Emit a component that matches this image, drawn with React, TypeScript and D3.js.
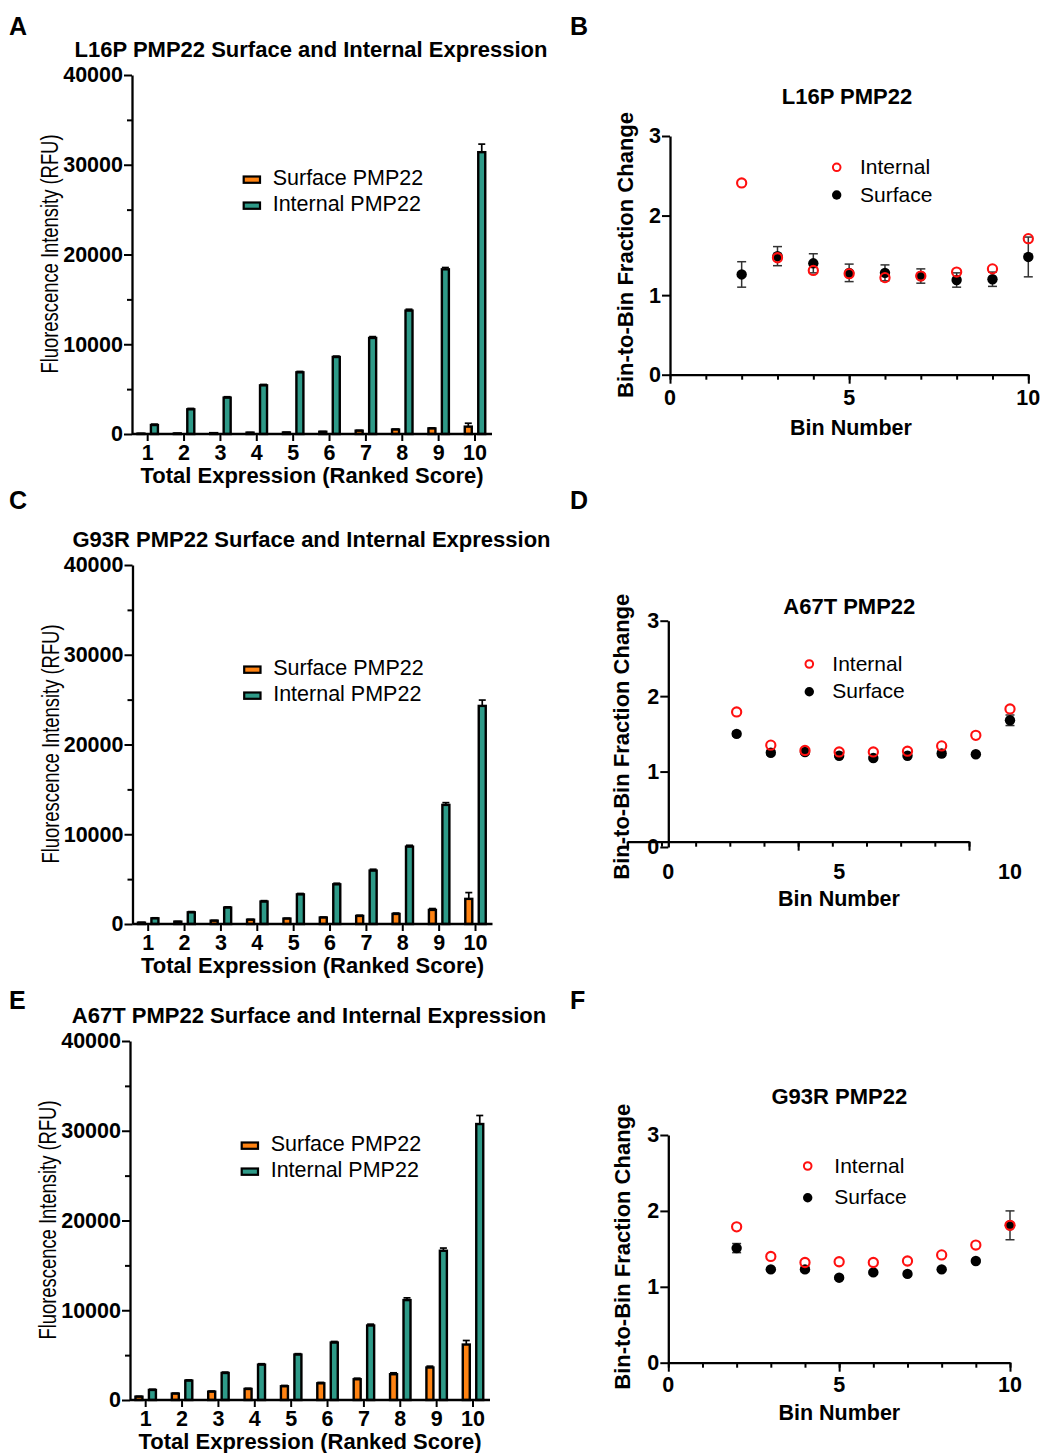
import React, { useEffect, useRef } from "react";
import * as d3 from "d3";

// ranked score groups (bar panels) and bins (fraction-change panels)
const ranks = ["1", "2", "3", "4", "5", "6", "7", "8", "9", "10"];
const bins = [2, 3, 4, 5, 6, 7, 8, 9, 10];

const barTicksMajor = [0, 10000, 20000, 30000, 40000];
const barTicksMinor = [5000, 15000, 25000, 35000];
const binTicksY = [0, 1, 2, 3];
const binTicksMajor = [0, 5, 10];
const binTicksMinor = [0, 1, 2, 3, 4, 5, 6, 7, 8, 9, 10];

// L16P bar values (RFU)
const l16pSurface = [40, 60, 100, 150, 170, 250, 370, 500, 620, 820];
const l16pSurfaceErr = [10, 10, 20, 20, 20, 30, 40, 50, 60, 380];
const l16pInternal = [1000, 2750, 4050, 5420, 6870, 8580, 10700, 13750, 18350, 31400];
const l16pInternalErr = [100, 100, 100, 100, 100, 100, 150, 150, 200, 900];

// G93R bar values
const g93rSurface = [150, 260, 370, 480, 600, 720, 900, 1120, 1570, 2800];
const g93rSurfaceErr = [30, 30, 40, 40, 50, 60, 80, 100, 150, 700];
const g93rInternal = [630, 1300, 1830, 2500, 3300, 4420, 5950, 8620, 13270, 24300];
const g93rInternalErr = [60, 80, 80, 100, 100, 120, 150, 150, 250, 650];

// A67T bar values
const a67tSurface = [370, 710, 930, 1230, 1530, 1860, 2310, 2870, 3620, 6180];
const a67tSurfaceErr = [50, 60, 70, 80, 90, 100, 120, 160, 150, 450];
const a67tInternal = [1120, 2160, 3010, 3940, 5060, 6400, 8300, 11130, 16630, 30750];
const a67tInternalErr = [80, 80, 100, 100, 100, 120, 150, 250, 300, 950];

// bin-to-bin fraction change
const l16pBinInternal = [2.41, 1.47, 1.31, 1.27, 1.22, 1.24, 1.29, 1.33, 1.71];
const l16pBinSurface = [1.26, 1.49, 1.4, 1.28, 1.28, 1.24, 1.19, 1.2, 1.48];
const l16pBinSurfaceErr = [0.16, 0.12, 0.12, 0.11, 0.1, 0.09, 0.09, 0.09, 0.25];

const a67tBinInternal = [1.79, 1.35, 1.28, 1.26, 1.26, 1.27, 1.34, 1.48, 1.83];
const a67tBinSurface = [1.5, 1.25, 1.26, 1.21, 1.18, 1.21, 1.24, 1.23, 1.68];
const a67tBinSurfaceErr = [0.03, 0.03, 0.03, 0.02, 0.02, 0.02, 0.03, 0.02, 0.07];

const g93rBinInternal = [1.79, 1.4, 1.32, 1.33, 1.32, 1.34, 1.42, 1.55, 1.81];
const g93rBinSurface = [1.51, 1.23, 1.23, 1.12, 1.19, 1.17, 1.23, 1.34, 1.81];
const g93rBinSurfaceErr = [0.06, 0.02, 0.03, 0.02, 0.02, 0.02, 0.02, 0.02, 0.19];

const FONT = "'Liberation Sans', Arial, Helvetica, sans-serif";
const ORANGE = "#FF8312";
const TEAL = "#2E9A88";
const RED = "#FF1010";

const barPanels = [
  {
    letter: "A", letterX: 9, letterY: 35, x0: 132, y0: 434,
    title: "L16P PMP22 Surface and Internal Expression",
    surface: l16pSurface, surfaceErr: l16pSurfaceErr,
    internal: l16pInternal, internalErr: l16pInternalErr,
  },
  {
    letter: "C", letterX: 9, letterY: 509, x0: 132.5, y0: 924,
    title: "G93R PMP22 Surface and Internal Expression",
    surface: g93rSurface, surfaceErr: g93rSurfaceErr,
    internal: g93rInternal, internalErr: g93rInternalErr,
  },
  {
    letter: "E", letterX: 9, letterY: 1009, x0: 130, y0: 1400,
    title: "A67T PMP22 Surface and Internal Expression",
    surface: a67tSurface, surfaceErr: a67tSurfaceErr,
    internal: a67tInternal, internalErr: a67tInternalErr,
  },
];

const scatterPanels = [
  {
    letter: "B", letterX: 570, letterY: 35,
    x0: 670, y0: 374.7, w: 358.3, h: 238.7, shift: [0, 0],
    title: "L16P PMP22", titleX: 847, titleY: 96,
    legX: 836.7, legY1: 167.3, legY2: 195, legTextX: 860,
    yLabX: 625, yLabY: 255, xLabX: 851, xLabY: 428, xTickY: 398,
    internal: l16pBinInternal, surface: l16pBinSurface, surfaceErr: l16pBinSurfaceErr,
  },
  {
    letter: "D", letterX: 570, letterY: 509,
    x0: 668.3, y0: 847, w: 341.7, h: 226.3, shift: [-41, -5.3],
    title: "A67T PMP22", titleX: 849.3, titleY: 606,
    legX: 809.3, legY1: 664, legY2: 691.7, legTextX: 832.3,
    yLabX: 621.7, yLabY: 736.7, xLabX: 839, xLabY: 899, xTickY: 871.7,
    internal: a67tBinInternal, surface: a67tBinSurface, surfaceErr: a67tBinSurfaceErr,
  },
  {
    letter: "F", letterX: 570, letterY: 1009,
    x0: 668.3, y0: 1362.7, w: 341.7, h: 227.7, shift: [0, 0],
    title: "G93R PMP22", titleX: 839.3, titleY: 1096.7,
    legX: 807.7, legY1: 1166, legY2: 1197.7, legTextX: 834.3,
    yLabX: 622, yLabY: 1246.7, xLabX: 839.3, xLabY: 1413, xTickY: 1385,
    internal: g93rBinInternal, surface: g93rBinSurface, surfaceErr: g93rBinSurfaceErr,
  },
];

function styleAxis(sel, size) {
  sel.attr("font-family", FONT).attr("font-size", size).attr("font-weight", "bold");
  sel.selectAll("text").attr("fill", "#000");
  sel.selectAll("line").attr("stroke", "#000").attr("stroke-width", 2);
  sel.select(".domain").attr("stroke", "#000").attr("stroke-width", 2.3);
}

function label(g, text, x, y, size, weight, rotate = false) {
  return g
    .append("text")
    .attr("transform", `translate(${x},${y})${rotate ? " rotate(-90)" : ""}`)
    .attr("text-anchor", "middle")
    .attr("dominant-baseline", "central")
    .attr("font-family", FONT)
    .attr("font-size", size)
    .attr("font-weight", weight)
    .attr("fill", "#000")
    .text(text);
}

function drawBarPanel(svg, p) {
  const g = svg.append("g").attr("class", "bar-panel");
  const x = d3.scaleBand().domain(ranks).range([p.x0 - 2.5, p.x0 + 361.2]);
  const xSub = d3
    .scaleBand()
    .domain(["surface", "internal"])
    .range([0, x.bandwidth()])
    .paddingInner(0.48)
    .paddingOuter(0.59);
  const y = d3.scaleLinear().domain([0, 40000]).range([p.y0, p.y0 - 359]);

  const series = [
    { key: "surface", values: p.surface, err: p.surfaceErr, color: ORANGE },
    { key: "internal", values: p.internal, err: p.internalErr, color: TEAL },
  ];

  for (const s of series) {
    const rows = ranks.map((r, i) => ({ r, v: s.values[i], e: s.err[i] }));
    const cx = (d) => x(d.r) + xSub(s.key) + xSub.bandwidth() / 2;
    g.append("g")
      .selectAll("rect")
      .data(rows)
      .join("rect")
      .attr("x", (d) => x(d.r) + xSub(s.key))
      .attr("width", xSub.bandwidth())
      .attr("y", (d) => y(d.v))
      .attr("height", (d) => y(0) - y(d.v))
      .attr("fill", s.color)
      .attr("stroke", "#000")
      .attr("stroke-width", 2.4);
    const eg = g.append("g").attr("stroke", "#000").attr("stroke-width", 1.7);
    eg.selectAll("line.v")
      .data(rows)
      .join("line")
      .attr("class", "v")
      .attr("x1", cx)
      .attr("x2", cx)
      .attr("y1", (d) => y(d.v))
      .attr("y2", (d) => y(d.v + d.e));
    eg.selectAll("line.c")
      .data(rows)
      .join("line")
      .attr("class", "c")
      .attr("x1", (d) => cx(d) - 3.5)
      .attr("x2", (d) => cx(d) + 3.5)
      .attr("y1", (d) => y(d.v + d.e))
      .attr("y2", (d) => y(d.v + d.e));
  }

  // axes
  g.append("g")
    .attr("transform", `translate(${p.x0},0)`)
    .call(
      d3.axisLeft(y).tickValues(barTicksMajor).tickSize(8).tickSizeOuter(0).tickPadding(1)
        .tickFormat((d) => String(d))
    )
    .call(styleAxis, 21.5);
  g.append("g")
    .attr("transform", `translate(${p.x0},0)`)
    .call(d3.axisLeft(y).tickValues(barTicksMinor).tickSize(5).tickFormat(() => ""))
    .call((a) => a.select(".domain").remove())
    .call(styleAxis, 21);
  g.append("g")
    .attr("transform", `translate(0,${p.y0})`)
    .call(d3.axisBottom(x).tickSize(7).tickPadding(4))
    .call((a) => a.select(".domain").remove())
    .call(styleAxis, 21.5);
  g.append("line")
    .attr("x1", p.x0)
    .attr("x2", p.x0 + 360)
    .attr("y1", p.y0)
    .attr("y2", p.y0)
    .attr("stroke", "#000")
    .attr("stroke-width", 2.3);

  // legend
  const legendItems = [
    { name: "Surface PMP22", color: ORANGE, y: p.y0 - 256 },
    { name: "Internal PMP22", color: TEAL, y: p.y0 - 230 },
  ];
  const lg = g.append("g");
  legendItems.forEach((it) => {
    lg.append("rect")
      .attr("x", p.x0 + 111.7)
      .attr("y", it.y - 1.5)
      .attr("width", 16.3)
      .attr("height", 6.3)
      .attr("fill", it.color)
      .attr("stroke", "#000")
      .attr("stroke-width", 2.2);
    lg.append("text")
      .attr("x", p.x0 + 140.7)
      .attr("y", it.y)
      .attr("dominant-baseline", "central")
      .attr("font-family", FONT)
      .attr("font-size", 21.5)
      .attr("fill", "#000")
      .text(it.name);
  });

  // titles and labels
  label(g, p.title, p.x0 + 179, p.y0 - 385, 22, "bold");
  label(g, "Total Expression (Ranked Score)", p.x0 + 180, p.y0 + 41, 22, "bold");
  label(g, "Fluorescence Intensity (RFU)", p.x0 - 82, p.y0 - 180, 23, "normal", true)
    .attr("textLength", 239)
    .attr("lengthAdjust", "spacingAndGlyphs");
  g.append("text")
    .attr("x", p.letterX)
    .attr("y", p.letterY)
    .attr("font-family", FONT)
    .attr("font-size", 25)
    .attr("font-weight", "bold")
    .text(p.letter);
}

function drawScatterPanel(svg, p) {
  const g = svg.append("g").attr("class", "bin-panel");
  const x = d3.scaleLinear().domain([0, 10]).range([p.x0, p.x0 + p.w]);
  const y = d3.scaleLinear().domain([0, 3]).range([p.y0, p.y0 - p.h]);

  // x axis (panel D is drawn offset in the source figure)
  const xa = g.append("g").attr("transform", `translate(${p.shift[0]},${p.y0 + p.shift[1]})`);
  xa.append("g")
    .call(d3.axisBottom(x).tickValues(binTicksMinor).tickSize(5).tickSizeOuter(0).tickFormat(() => ""))
    .call(styleAxis, 21);
  xa.append("g")
    .call(d3.axisBottom(x).tickValues(binTicksMajor).tickSize(9).tickFormat(() => ""))
    .call((a) => a.select(".domain").remove())
    .call(styleAxis, 21);
  g.append("g")
    .selectAll("text")
    .data(binTicksMajor)
    .join("text")
    .attr("x", (d) => x(d))
    .attr("y", p.xTickY)
    .attr("text-anchor", "middle")
    .attr("dominant-baseline", "central")
    .attr("font-family", FONT)
    .attr("font-size", 21.5)
    .attr("font-weight", "bold")
    .text((d) => String(d));

  g.append("g")
    .attr("transform", `translate(${p.x0},0)`)
    .call(d3.axisLeft(y).tickValues(binTicksY).tickSize(8).tickSizeOuter(0).tickPadding(1)
      .tickFormat((d) => String(d)))
    .call(styleAxis, 21.5);

  // surface error bars + points
  const surf = bins.map((b, i) => ({ b, v: p.surface[i], e: p.surfaceErr[i] }));
  const eg = g.append("g").attr("stroke", "#333").attr("stroke-width", 1.5);
  eg.selectAll("line.v")
    .data(surf)
    .join("line")
    .attr("class", "v")
    .attr("x1", (d) => x(d.b))
    .attr("x2", (d) => x(d.b))
    .attr("y1", (d) => y(d.v - d.e))
    .attr("y2", (d) => y(d.v + d.e));
  for (const sign of [-1, 1]) {
    eg.selectAll(`line.c${sign}`)
      .data(surf)
      .join("line")
      .attr("class", `c${sign}`)
      .attr("x1", (d) => x(d.b) - 4.5)
      .attr("x2", (d) => x(d.b) + 4.5)
      .attr("y1", (d) => y(d.v + sign * d.e))
      .attr("y2", (d) => y(d.v + sign * d.e));
  }
  g.append("g")
    .selectAll("circle")
    .data(surf)
    .join("circle")
    .attr("cx", (d) => x(d.b))
    .attr("cy", (d) => y(d.v))
    .attr("r", 5.2)
    .attr("fill", "#000");

  g.append("g")
    .selectAll("circle")
    .data(bins.map((b, i) => ({ b, v: p.internal[i] })))
    .join("circle")
    .attr("cx", (d) => x(d.b))
    .attr("cy", (d) => y(d.v))
    .attr("r", 4.6)
    .attr("fill", "none")
    .attr("stroke", RED)
    .attr("stroke-width", 2.1);

  // legend
  g.append("circle")
    .attr("cx", p.legX)
    .attr("cy", p.legY1)
    .attr("r", 3.8)
    .attr("fill", "none")
    .attr("stroke", RED)
    .attr("stroke-width", 2);
  g.append("circle").attr("cx", p.legX).attr("cy", p.legY2).attr("r", 4.7).attr("fill", "#000");
  [
    { t: "Internal", y: p.legY1 - 1 },
    { t: "Surface", y: p.legY2 - 1 },
  ].forEach((it) => {
    g.append("text")
      .attr("x", p.legTextX)
      .attr("y", it.y)
      .attr("dominant-baseline", "central")
      .attr("font-family", FONT)
      .attr("font-size", 21)
      .attr("fill", "#000")
      .text(it.t);
  });

  label(g, p.title, p.titleX, p.titleY, 22, "bold");
  label(g, "Bin Number", p.xLabX, p.xLabY, 21.5, "bold");
  label(g, "Bin-to-Bin Fraction Change", p.yLabX, p.yLabY, 22, "bold", true);
  g.append("text")
    .attr("x", p.letterX)
    .attr("y", p.letterY)
    .attr("font-family", FONT)
    .attr("font-size", 25)
    .attr("font-weight", "bold")
    .text(p.letter);
}

export default function App() {
  const ref = useRef(null);

  useEffect(() => {
    const svg = d3.select(ref.current);
    svg.selectAll("*").remove();
    barPanels.forEach((p) => drawBarPanel(svg, p));
    scatterPanels.forEach((p) => drawScatterPanel(svg, p));
  }, []);

  return (
    <svg
      ref={ref}
      width={1042}
      height={1453}
      style={{ position: "absolute", left: 0, top: 0, background: "#fff", display: "block" }}
    ></svg>
  );
}
